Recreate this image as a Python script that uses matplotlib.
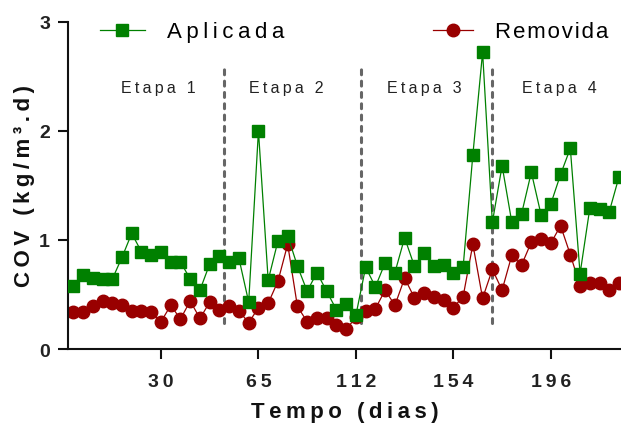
import numpy as np
import matplotlib
matplotlib.use("Agg")
import matplotlib.pyplot as plt

plt.rcParams['font.family'] = ['Liberation Sans', 'DejaVu Sans']

# COV aplicada e removida por amostra
amostra = np.arange(1, 58)
aplicada = [0.58, 0.68, 0.65, 0.64, 0.64, 0.84, 1.06, 0.89, 0.86, 0.89,
            0.80, 0.80, 0.64, 0.54, 0.78, 0.85, 0.80, 0.83, 0.43, 2.00,
            0.63, 0.99, 1.04, 0.76, 0.53, 0.70, 0.53, 0.36, 0.41, 0.31,
            0.75, 0.57, 0.79, 0.70, 1.02, 0.76, 0.88, 0.76, 0.77, 0.70,
            0.75, 1.78, 2.72, 1.16, 1.68, 1.16, 1.24, 1.62, 1.23, 1.33,
            1.60, 1.84, 0.69, 1.29, 1.28, 1.26, 1.58]
removida = [0.34, 0.34, 0.39, 0.44, 0.42, 0.40, 0.35, 0.35, 0.34, 0.25,
            0.40, 0.275, 0.44, 0.28, 0.43, 0.36, 0.39, 0.35, 0.24, 0.38,
            0.42, 0.62, 0.96, 0.39, 0.25, 0.28, 0.28, 0.22, 0.18, 0.29,
            0.35, 0.37, 0.54, 0.40, 0.65, 0.47, 0.51, 0.48, 0.45, 0.38,
            0.48, 0.96, 0.465, 0.73, 0.54, 0.86, 0.77, 0.98, 1.01, 0.97,
            1.13, 0.865, 0.58, 0.605, 0.605, 0.54, 0.605]

tick_pos = [10, 20, 30, 40, 50]
tick_dias = ['30', '65', '112', '154', '196']
etapas = ['Etapa 1', 'Etapa 2', 'Etapa 3', 'Etapa 4']
divisoes = [16.5, 30.5, 44.0]

verde = '#008000'
vermelho = '#990000'


def espacar(s, sep='\u2009'):
    # texto com letras afastadas (espaco fino entre os caracteres)
    return sep.join(s)


fig = plt.figure(figsize=(6.21, 4.27), dpi=100)
ax = fig.add_axes([0.1095, 0.1803, 0.8905, 0.7665])

# linhas de separacao das etapas
for xd in divisoes:
    ax.plot([xd, xd], [0.24, 2.57], color='#666666', lw=2.2,
            dashes=(1.6, 2.1), dash_capstyle='round', zorder=1)

l_rem, = ax.plot(amostra, removida, color=vermelho, lw=0.9, marker='o',
                 ms=9, mec=vermelho, mfc=vermelho, zorder=2)
l_apl, = ax.plot(amostra, aplicada, color=verde, lw=0.9, marker='s',
                 ms=9, mec=verde, mfc=verde, zorder=3)

# rotulos das etapas
for xt, txt in zip([9.74, 22.9, 37.05, 50.9], etapas):
    ax.text(xt, 2.40, espacar(txt), ha='center', va='center', fontsize=11.5,
            color='#222222')

ax.set_xlim(0.46, 57.2)
ax.set_ylim(0, 3)
ax.set_xticks(tick_pos)
ax.set_xticklabels([espacar(t) for t in tick_dias])
ax.set_yticks([0, 1, 2, 3])

for s in ['top', 'right']:
    ax.spines[s].set_visible(False)
for s in ['left', 'bottom']:
    ax.spines[s].set_linewidth(1.5)
    ax.spines[s].set_color('#111111')
    ax.spines[s].set_clip_on(False)

ax.tick_params(axis='both', direction='out', length=7, width=1.5,
               color='#111111', labelsize=14)
ax.tick_params(axis='x', pad=10)
ax.tick_params(axis='y', pad=6)
for lab in ax.get_xticklabels() + ax.get_yticklabels():
    lab.set_fontweight('bold')
    lab.set_color('#222222')

ax.set_xlabel(espacar('Tempo (dias)'), fontsize=16, fontweight='bold',
              color='#111111', labelpad=8)
ax.set_ylabel(espacar('COV (kg/m³.d)'), fontsize=16, fontweight='bold',
              color='#111111', labelpad=3)

leg1 = ax.legend([l_apl], [espacar('Aplicada')], loc='center left',
                 bbox_to_anchor=(0.058, 0.969), frameon=False, fontsize=16,
                 handlelength=2.0, handletextpad=1.0, borderpad=0,
                 borderaxespad=0)
ax.add_artist(leg1)
ax.legend([l_rem], [espacar('Removida', '\u200a')], loc='center left',
          bbox_to_anchor=(0.66, 0.969), frameon=False, fontsize=16,
          handlelength=1.8, handletextpad=1.0, borderpad=0,
          borderaxespad=0)

fig.savefig('out.png', dpi=100)
